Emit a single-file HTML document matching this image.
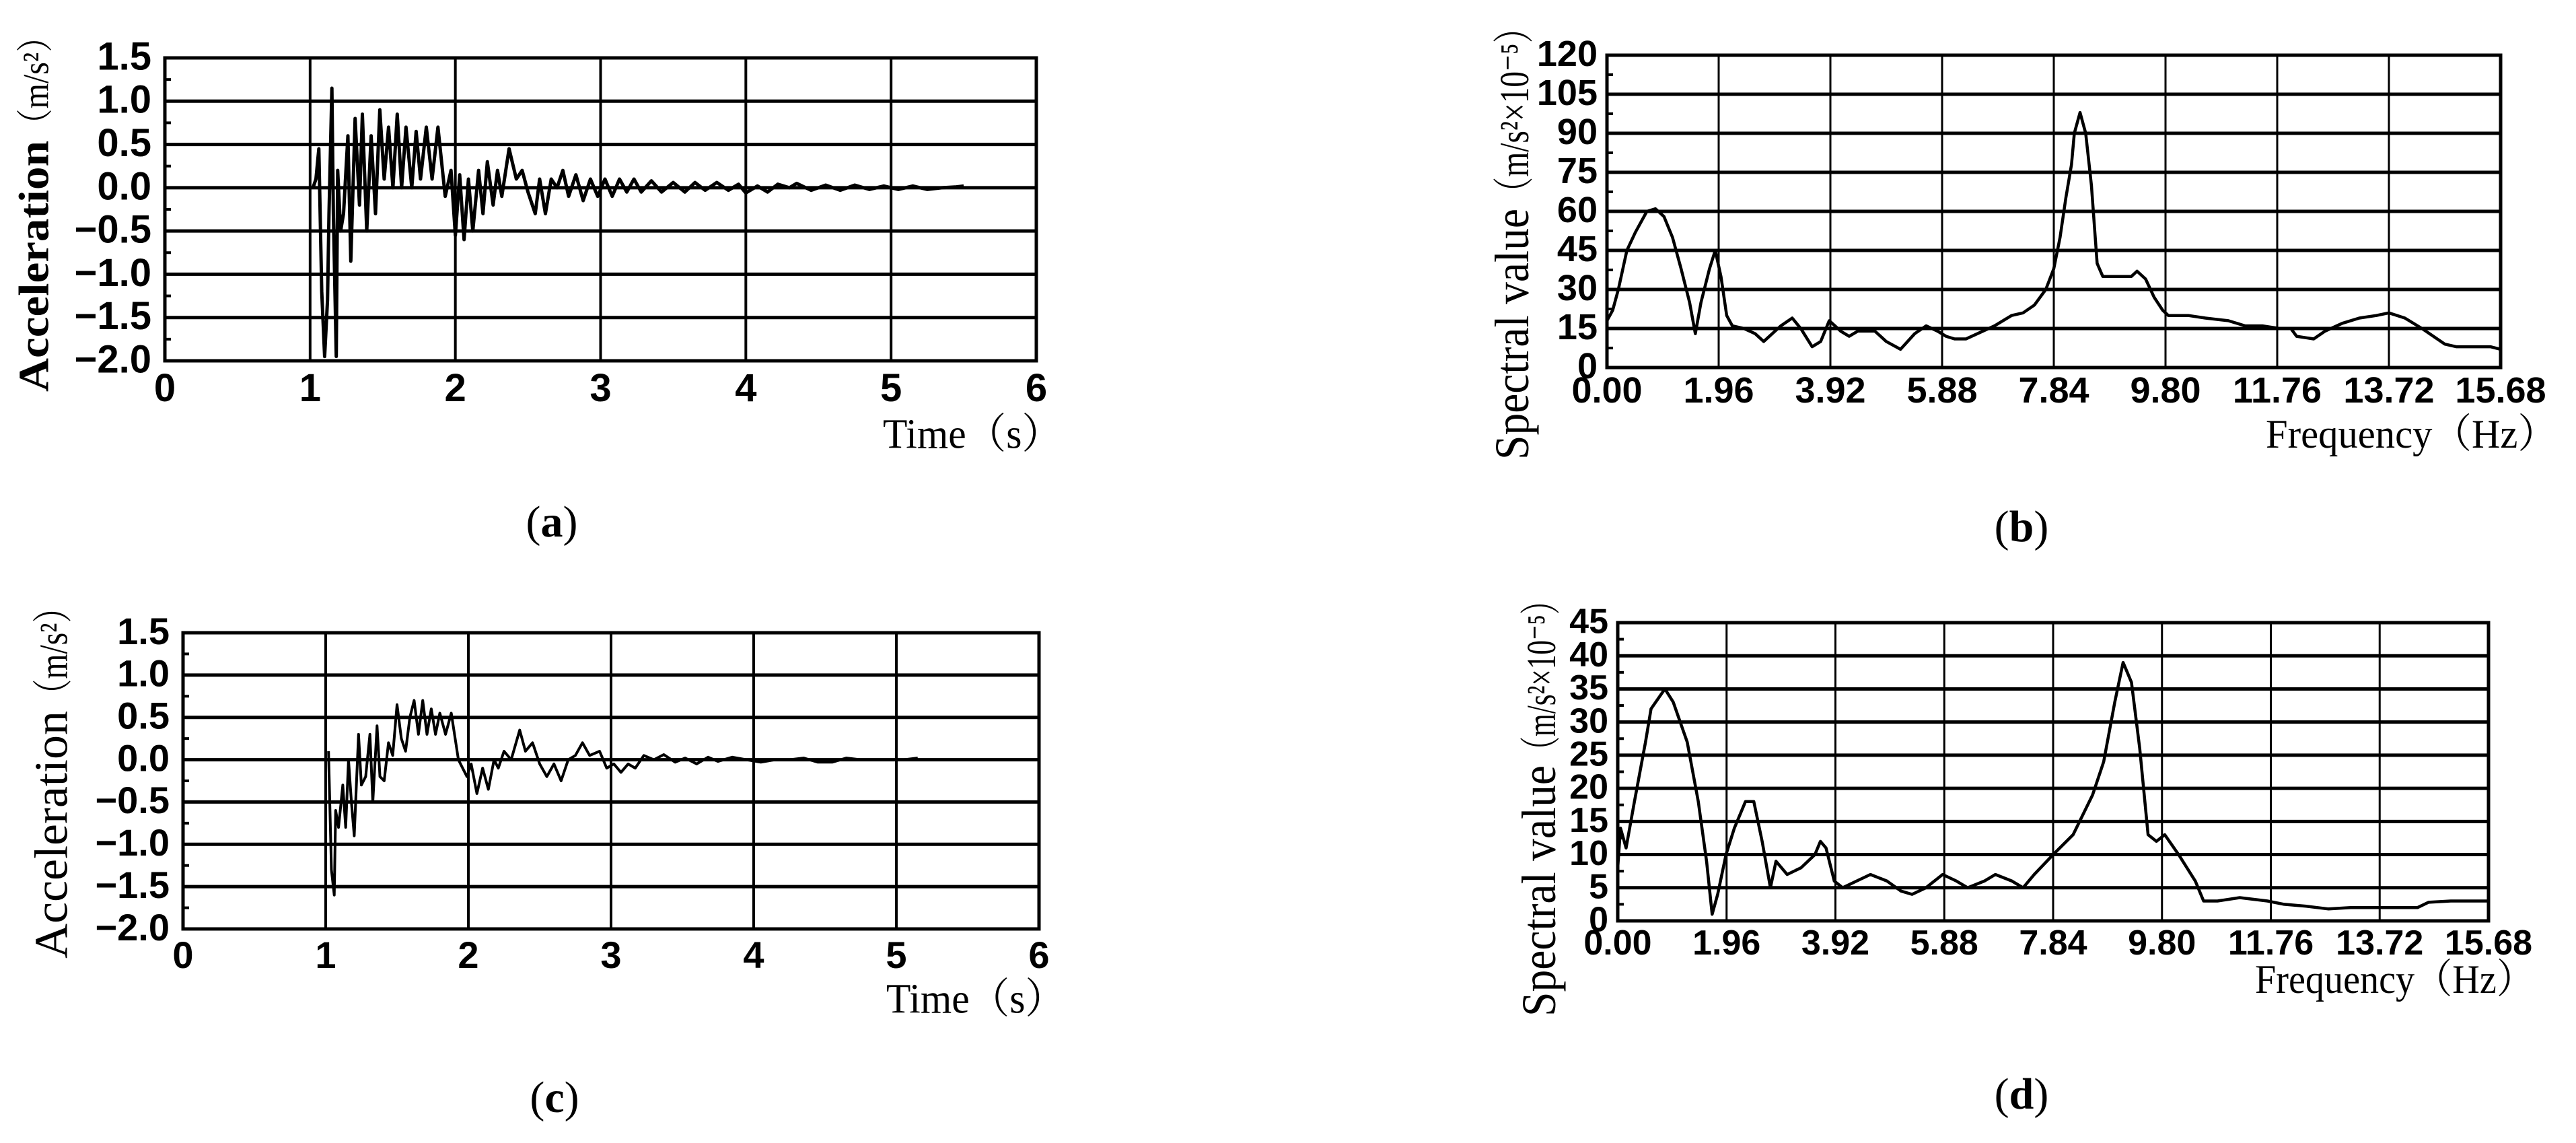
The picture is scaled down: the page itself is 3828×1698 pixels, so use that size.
<!DOCTYPE html>
<html><head><meta charset="utf-8"><style>
html,body{margin:0;padding:0;background:#fff;}
svg{display:block;}
</style></head><body>
<svg id="fig" width="3828" height="1698" xmlns="http://www.w3.org/2000/svg"></svg>
<script>
// ---- data ----
const timeTicks = [0,1,2,3,4,5,6];
const accTicks = [1.5,1.0,0.5,0.0,-0.5,-1.0,-1.5,-2.0];
const accTickLabels = ["1.5","1.0","0.5","0.0","\u22120.5","\u22121.0","\u22121.5","\u22122.0"];
const freqTicks = [0,1.96,3.92,5.88,7.84,9.80,11.76,13.72,15.68];
const freqTickLabels = ["0.00","1.96","3.92","5.88","7.84","9.80","11.76","13.72","15.68"];
const specBTicks = [120,105,90,75,60,45,30,15,0];
const specDTicks = [45,40,35,30,25,20,15,10,5,0];

const accA_t = [1.02,1.04,1.06,1.08,1.10,1.12,1.13,1.15,1.16,1.18,1.19,1.21,1.23,1.26,1.28,1.31,1.34,1.36,1.39,1.42,1.45,1.48,1.51,1.54,1.57,1.60,1.63,1.66,1.70,1.73,1.76,1.80,1.84,1.88,1.93,1.97,2.00,2.03,2.06,2.09,2.12,2.16,2.19,2.22,2.26,2.29,2.32,2.37,2.42,2.46,2.50,2.55,2.58,2.62,2.66,2.70,2.74,2.78,2.83,2.88,2.93,2.98,3.03,3.08,3.13,3.18,3.23,3.28,3.35,3.42,3.50,3.58,3.65,3.72,3.80,3.88,3.95,4.00,4.08,4.15,4.22,4.30,4.35,4.45,4.55,4.65,4.75,4.85,4.95,5.05,5.15,5.25,5.35,5.45,5.50];
const accA_v = [0.0,0.1,0.45,-1.2,-1.95,-1.3,-0.3,1.15,-0.3,-1.95,0.2,-0.5,-0.3,0.6,-0.85,0.8,-0.2,0.85,-0.5,0.6,-0.3,0.9,0.1,0.7,0.0,0.85,0.0,0.7,0.0,0.65,0.1,0.7,0.1,0.7,-0.1,0.2,-0.55,0.15,-0.6,0.1,-0.5,0.2,-0.3,0.3,-0.2,0.2,-0.1,0.45,0.1,0.2,-0.05,-0.3,0.1,-0.3,0.1,0.0,0.2,-0.1,0.15,-0.15,0.1,-0.1,0.1,-0.1,0.1,-0.05,0.1,-0.05,0.08,-0.05,0.06,-0.05,0.06,-0.03,0.06,-0.03,0.04,-0.06,0.02,-0.05,0.04,0.0,0.05,-0.03,0.03,-0.03,0.03,-0.02,0.02,-0.02,0.02,-0.02,0.0,0.01,0.02];

const accC_t = [1.02,1.04,1.06,1.07,1.09,1.12,1.14,1.16,1.18,1.20,1.23,1.25,1.28,1.31,1.33,1.36,1.38,1.41,1.44,1.47,1.50,1.53,1.56,1.59,1.62,1.65,1.68,1.71,1.74,1.77,1.80,1.84,1.88,1.93,1.96,1.99,2.02,2.06,2.10,2.14,2.18,2.21,2.25,2.30,2.36,2.40,2.45,2.50,2.55,2.60,2.65,2.70,2.75,2.80,2.85,2.92,2.97,3.02,3.07,3.12,3.17,3.23,3.30,3.37,3.45,3.52,3.60,3.68,3.75,3.85,3.95,4.05,4.15,4.25,4.35,4.45,4.55,4.65,4.75,4.90,5.05,5.15];
const accC_v = [0.1,-1.3,-1.6,-0.6,-0.8,-0.3,-0.8,0.0,-0.5,-0.9,0.3,-0.3,-0.2,0.3,-0.5,0.4,-0.2,-0.25,0.2,0.05,0.65,0.25,0.1,0.5,0.7,0.3,0.7,0.3,0.6,0.3,0.55,0.3,0.55,0.0,-0.1,-0.2,-0.05,-0.4,-0.1,-0.35,0.0,-0.1,0.1,0.0,0.35,0.1,0.2,-0.05,-0.2,-0.05,-0.25,0.0,0.05,0.2,0.05,0.1,-0.1,-0.05,-0.15,-0.05,-0.1,0.05,0.0,0.06,-0.03,0.02,-0.05,0.03,-0.02,0.03,0.0,-0.03,0.0,0.0,0.02,-0.03,-0.03,0.02,0.0,0.0,0.0,0.02];

const specB_f = [0,0.1,0.2,0.35,0.5,0.7,0.85,1.0,1.15,1.3,1.45,1.55,1.65,1.8,1.9,2.0,2.1,2.2,2.4,2.6,2.75,2.9,3.05,3.25,3.4,3.6,3.75,3.9,4.0,4.1,4.25,4.4,4.7,4.9,5.15,5.4,5.6,5.8,5.95,6.1,6.3,6.5,6.8,7.1,7.3,7.5,7.7,7.84,7.95,8.05,8.15,8.2,8.3,8.4,8.5,8.6,8.7,8.95,9.2,9.3,9.45,9.6,9.75,9.85,10.2,10.5,10.9,11.2,11.5,11.8,12.0,12.1,12.4,12.6,12.9,13.2,13.5,13.72,14.0,14.3,14.5,14.7,14.9,15.3,15.5,15.68];
const specB_v = [18,22,30,45,52,60,61,58,50,38,25,13,25,38,45,35,20,16,15,13,10,13,16,19,15,8,10,18,16,14,12,14,14,10,7,13,16,14,12,11,11,13,16,20,21,24,30,38,50,65,78,90,98,90,70,40,35,35,35,37,34,27,22,20,20,19,18,16,16,15,15,12,11,14,17,19,20,21,19,15,12,9,8,8,8,7];

const specD_f = [0,0.05,0.15,0.3,0.5,0.6,0.85,1.0,1.25,1.45,1.6,1.7,1.8,1.95,2.1,2.3,2.45,2.6,2.75,2.85,3.05,3.3,3.55,3.65,3.75,3.9,4.05,4.3,4.55,4.85,5.1,5.3,5.55,5.85,6.1,6.3,6.6,6.8,7.1,7.3,7.5,7.84,8.2,8.55,8.75,8.95,9.1,9.25,9.4,9.55,9.7,9.85,10.1,10.4,10.55,10.8,11.2,11.7,12.0,12.4,12.8,13.2,13.72,14.4,14.6,15.0,15.3,15.68];
const specD_v = [8,14,11,18,27,32,35,33,27,18,9,1,4,10,14,18,18,12,5,9,7,8,10,12,11,6,5,6,7,6,4.5,4,5,7,6,5,6,7,6,5,7,10,13,19,24,33,39,36,26,13,12,13,10,6,3,3,3.5,3,2.5,2.2,1.8,2,2,2,2.8,3,3,3];

const NS = "http://www.w3.org/2000/svg";
const svg = document.getElementById('fig');
function mk(tag, attrs, parent){
  const e = document.createElementNS(NS, tag);
  for (const k in attrs) e.setAttribute(k, attrs[k]);
  (parent||svg).appendChild(e);
  return e;
}
function txt(str, attrs, parent){ const t = mk('text', attrs, parent); t.textContent = str; return t; }

function panel(o){
  const g = mk('g', {});
  
  
  const sx = v => o.L + (v - o.xmin) / (o.xmax - o.xmin) * (o.R - o.L);
  const sy = v => o.B - (v - o.ymin) / (o.ymax - o.ymin) * (o.B - o.T);
  for (let i = 0; i < o.yTicks.length - 1; i++) {
    const ym = (sy(o.yTicks[i]) + sy(o.yTicks[i+1])) / 2;
    const mt = mk('line', {x1:o.L, x2:o.L+9, y1:ym, y2:ym, stroke:'#000', 'stroke-width':4}, g);
    
    
  }
  o.yTicks.forEach((v, i) => {
    const y = sy(v);
    const l = mk('line', {x1:o.L, x2:o.R, y1:y, y2:y, stroke:'#000', 'stroke-width':o.hw}, g);
    
    
    const t = txt(o.yLabels[i], {x:o.L - o.ylabGap, y:y + o.fs*0.30, 'text-anchor':'end', 'font-family':'Liberation Sans, sans-serif', 'font-weight':'bold', 'font-size':o.fs}, g);
    
    
  });
  o.xTicks.forEach((v, i) => {
    const x = sx(v);
    const l = mk('line', {x1:x, x2:x, y1:o.T, y2:o.B, stroke:'#000', 'stroke-width':o.vw}, g);
    
    
    const t = txt(o.xLabels[i], {x:x, y:o.B + o.xlabDy, 'text-anchor':'middle', 'font-family':'Liberation Sans, sans-serif', 'font-weight':'bold', 'font-size':o.fs}, g);
    
    
  });
  const fr = mk('rect', {x:o.L, y:o.T, width:o.R-o.L, height:o.B-o.T, fill:'none', stroke:'#000', 'stroke-width':5}, g);
  
  
  const pts = o.xs.map((x, i) => sx(x).toFixed(1) + ',' + sy(o.ys[i]).toFixed(1)).join(' ');
  const pl = mk('polyline', {points:pts, fill:'none', stroke:'#000', 'stroke-width':o.lw, 'stroke-linejoin':'round'}, g);
  
  
  return g;
}

panel({name:'chart-a', seriesName:'acceleration-line-a', L:245, R:1540, T:86, B:536, xmin:0, xmax:6, ymin:-2, ymax:1.5,
  xTicks:timeTicks, xLabels:timeTicks.map(String), yTicks:accTicks, yLabels:accTickLabels,
  xs:accA_t, ys:accA_v, fs:58, hw:5, vw:4, lw:5, ylabGap:20, xlabDy:60});
panel({name:'chart-c', seriesName:'acceleration-line-c', L:272, R:1544, T:940, B:1380, xmin:0, xmax:6, ymin:-2, ymax:1.5,
  xTicks:timeTicks, xLabels:timeTicks.map(String), yTicks:accTicks, yLabels:accTickLabels,
  xs:accC_t, ys:accC_v, fs:56, hw:5, vw:4, lw:4, ylabGap:20, xlabDy:58});
panel({name:'chart-b', seriesName:'spectrum-line-b', L:2388, R:3716, T:82, B:546, xmin:0, xmax:15.68, ymin:0, ymax:120,
  xTicks:freqTicks, xLabels:freqTickLabels, yTicks:specBTicks, yLabels:specBTicks.map(String),
  xs:specB_f, ys:specB_v, fs:54, hw:5, vw:3, lw:4.5, ylabGap:14, xlabDy:52});
panel({name:'chart-d', seriesName:'spectrum-line-d', L:2404, R:3698, T:925, B:1368, xmin:0, xmax:15.68, ymin:0, ymax:45,
  xTicks:freqTicks, xLabels:freqTickLabels, yTicks:specDTicks, yLabels:specDTicks.map(String),
  xs:specD_f, ys:specD_v, fs:52, hw:5, vw:3, lw:4.5, ylabGap:14, xlabDy:50});

function ytitle(name, cx, yBottom, yMid, yTop, main, unit, fs, bold){
  const a = txt(main, {x:0, y:0, transform:`translate(${cx + fs*0.35},${yBottom}) rotate(-90)`, 'font-family':'Liberation Serif, serif', 'font-weight':bold?'bold':'normal', 'font-size':fs, textLength:(yBottom - yMid), lengthAdjust:'spacingAndGlyphs'});
  
  
  const b = txt(unit, {x:0, y:0, transform:`translate(${cx + fs*0.35},${yMid}) rotate(-90)`, 'font-family':'Liberation Serif, Noto Serif CJK SC, serif', 'font-size':fs*0.85, textLength:(yMid - yTop), lengthAdjust:'spacingAndGlyphs'});
  
  
}
ytitle('y-axis-title-a', 49, 582, 209, 30, 'Acceleration', '（m/s²）', 64, true);
ytitle('y-axis-title-c', 75, 1424, 1056, 878, 'Acceleration', '（m/s²）', 70, false);
ytitle('y-axis-title-b', 2246, 683, 310, 17, 'Spectral value', '（m/s²×10⁻⁵）', 72, false);
ytitle('y-axis-title-d', 2286, 1510, 1137, 870, 'Spectral value', '（m/s²×10⁻⁵）', 72, false);

function xtitle(name, x1, x2, cy, str, fs){
  const t = txt(str, {x:x1, y:cy + fs*0.33, 'font-family':'Liberation Serif, Noto Serif CJK SC, serif', 'font-size':fs, textLength:(x2-x1), lengthAdjust:'spacingAndGlyphs'});
  
  
}
xtitle('x-axis-title-a', 1312, 1578, 645, 'Time（s）', 62);
xtitle('x-axis-title-c', 1317, 1583, 1484, 'Time（s）', 62);
xtitle('x-axis-title-b', 3367, 3800, 645, 'Frequency（Hz）', 60);
xtitle('x-axis-title-d', 3351, 3766, 1455, 'Frequency（Hz）', 60);

function caption(name, cx, cy, letter){
  const t = mk('text', {x:cx, y:cy + 22, 'text-anchor':'middle', 'font-family':'Liberation Serif, serif', 'font-size':66});
  
  
  const s1 = mk('tspan', {}, t); s1.textContent = '(';
  const s2 = mk('tspan', {'font-weight':'bold'}, t); s2.textContent = letter;
  const s3 = mk('tspan', {}, t); s3.textContent = ')';
}
caption('caption-a', 820, 775, 'a');
caption('caption-b', 3004, 782, 'b');
caption('caption-c', 824, 1630, 'c');
caption('caption-d', 3004, 1625, 'd');
</script>
</body></html>
